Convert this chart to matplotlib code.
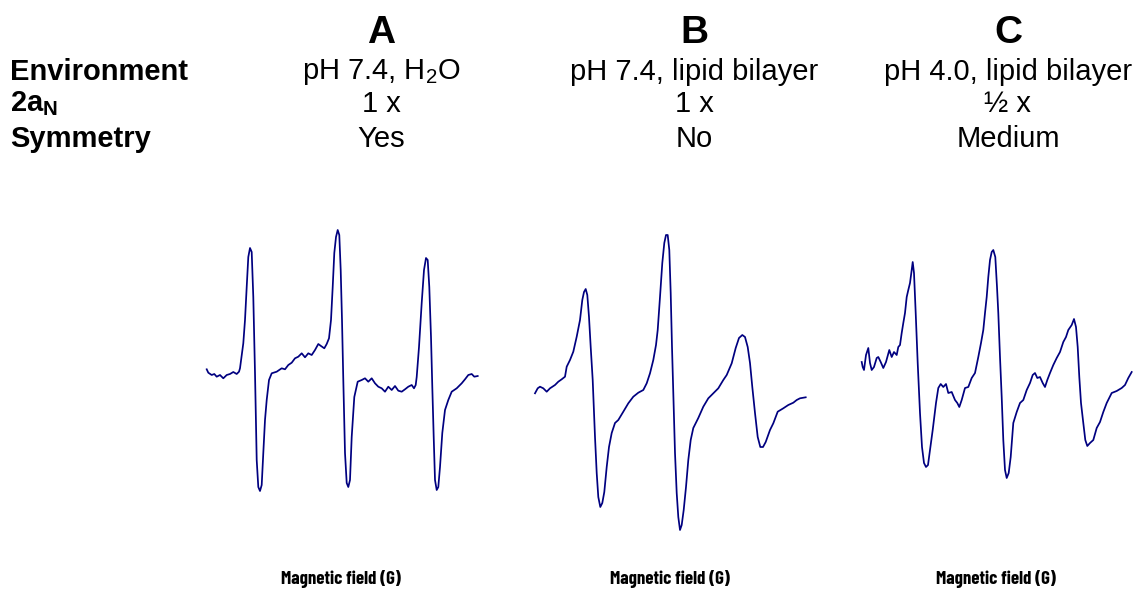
import matplotlib
matplotlib.use("Agg")
import matplotlib.pyplot as plt

plt.rcParams["font.family"] = ["Liberation Sans", "DejaVu Sans"]
plt.rcParams["mathtext.fontset"] = "custom"
plt.rcParams["mathtext.rm"] = "Liberation Sans"
plt.rcParams["mathtext.bf"] = "Liberation Sans:bold"

# ---- EPR spectra (field offset in G, first-derivative signal in a.u.) ----
field_a = [6.7, 8.3, 11.7, 14.3, 16.7, 20.0, 23.3, 26.7, 30.0, 33.3, 36.7, 39.0, 40.0,
           43.3, 45.0, 46.7, 48.3, 50.0, 51.7, 53.3, 55.0, 56.7, 58.3, 60.0, 61.7, 63.3,
           65.0, 66.7, 69.0, 71.7, 76.7, 81.7, 85.0, 88.3, 91.7, 95.0, 98.3, 101.7, 105.0,
           108.3, 111.7, 115.0, 118.3, 121.0, 124.3, 126.7, 129.0, 131.0, 132.7, 134.3,
           136.0, 137.7, 139.3, 140.7, 142.0, 143.3, 145.0, 146.7, 148.3, 150.0, 151.7,
           154.3, 157.7, 161.7, 165.0, 168.3, 171.7, 175.0, 178.3, 181.7, 185.0, 188.3,
           191.7, 195.0, 198.3, 201.7, 205.0, 208.3, 211.7, 214.0, 215.7, 216.7, 219.0,
           221.7, 224.0, 226.0, 227.7, 229.3, 231.0, 232.3, 233.7, 235.0, 236.7, 238.3,
           240.0, 242.3, 245.0, 248.3, 251.7, 256.7, 261.7, 265.0, 268.3, 271.7, 274.3,
           277.7]
signal_a = [5.7, 2.3, 0.0, 1.0, -1.7, 0.0, -3.3, 0.0, 1.0, 3.0, 1.0, 3.3, 6.7,
            31.7, 55.0, 88.0, 118.0, 127.0, 123.0, 78.0, 2.0, -85.0, -112.0, -116.0,
            -110.0, -78.0, -45.0, -25.0, -5.0, 1.7, 3.3, 6.7, 5.7, 10.0, 12.3, 16.7,
            18.3, 21.7, 17.7, 21.7, 20.0, 25.0, 31.0, 29.0, 26.7, 31.0, 36.7, 55.0, 88.0,
            122.0, 138.0, 145.0, 140.0, 105.0, 55.0, -5.0, -78.0, -108.0, -112.0, -105.0,
            -62.0, -22.0, -6.7, -5.0, -3.3, -6.7, -3.3, -8.3, -11.7, -13.3, -16.7, -11.7,
            -15.0, -11.0, -15.7, -16.7, -14.3, -11.7, -10.0, -13.3, -10.0, -2.0, 28.0,
            72.0, 105.0, 117.0, 115.0, 88.0, 38.0, -12.0, -62.0, -105.0, -115.0, -112.0,
            -92.0, -58.0, -35.0, -25.0, -16.7, -13.3, -8.3, -4.3, 0.0, 1.0, -1.7, -1.0]

field_b = [5.0, 7.7, 10.0, 13.3, 16.7, 20.0, 25.0, 28.3, 31.7, 35.0, 36.7, 40.0, 43.3,
           46.7, 50.0, 52.3, 54.0, 55.7, 57.3, 59.0, 60.7, 62.7, 65.0, 66.7, 68.3, 70.3,
           72.3, 74.3, 76.7, 79.0, 81.7, 85.0, 88.3, 93.3, 98.3, 103.3, 108.3, 113.3,
           116.7, 120.0, 123.3, 126.0, 127.7, 130.0, 132.3, 134.3, 136.0, 137.7, 139.3,
           140.7, 142.0, 143.3, 145.0, 146.7, 148.3, 150.0, 151.7, 153.7, 156.0, 158.3,
           160.7, 163.3, 168.3, 173.3, 178.3, 183.3, 188.3, 193.3, 196.7, 201.7, 205.7,
           209.0, 212.3, 215.0, 217.7, 220.0, 222.3, 225.0, 227.7, 230.3, 233.0, 235.7,
           240.0, 243.3, 247.7, 253.3, 258.3, 263.3, 266.7, 270.0, 275.7]
signal_b = [-3.3, 1.7, 3.3, 1.7, -1.7, 1.7, 5.0, 8.3, 10.7, 13.3, 23.3, 30.0, 38.3,
            53.3, 70.0, 90.0, 98.0, 101.0, 95.0, 73.0, 43.0, 10.0, -47.0, -83.0, -107.0,
            -117.0, -113.0, -102.0, -77.0, -57.0, -43.0, -33.0, -30.0, -21.7, -13.3, -6.7,
            -2.7, 0.0, 6.7, 16.7, 30.0, 45.0, 60.0, 93.0, 127.0, 147.0, 155.0, 155.0,
            140.0, 97.0, 43.0, -3.0, -63.0, -103.0, -127.0, -140.0, -135.0, -120.0, -97.0,
            -70.0, -50.0, -38.0, -28.0, -16.7, -8.3, -3.3, 1.7, 10.0, 15.0, 26.7, 42.0,
            52.0, 55.0, 53.0, 43.0, 27.0, 3.0, -23.0, -47.0, -57.0, -57.0, -52.0, -40.0,
            -33.3, -21.7, -18.3, -15.0, -12.7, -10.0, -8.3, -7.3]

field_c = [3.7, 4.7, 6.0, 8.0, 10.3, 12.0, 13.7, 16.0, 18.7, 20.3, 22.7, 25.3, 28.0,
           31.3, 33.7, 36.0, 38.7, 40.3, 42.0, 43.7, 45.3, 47.0, 48.7, 50.3, 52.0, 53.7,
           54.7, 56.0, 57.7, 59.7, 62.0, 64.0, 66.0, 68.0, 70.0, 72.0, 74.7, 78.0, 80.3,
           82.7, 85.3, 88.0, 90.3, 93.7, 97.0, 99.3, 101.3, 103.7, 107.0, 110.3, 113.7,
           117.0, 120.3, 123.0, 125.3, 127.0, 128.7, 130.3, 132.0, 133.7, 135.3, 137.3,
           139.0, 140.3, 142.0, 143.7, 145.3, 147.0, 148.7, 150.7, 152.7, 155.3, 158.7,
           162.0, 165.3, 168.7, 172.0, 174.7, 177.0, 179.3, 182.0, 184.7, 187.0, 189.3,
           192.0, 195.3, 198.7, 202.0, 205.3, 208.0, 210.3, 213.7, 216.0, 218.0, 219.7,
           221.3, 223.0, 225.3, 227.3, 229.3, 232.0, 235.3, 238.7, 242.0, 245.3, 248.7,
           253.7, 258.7, 263.7, 267.0, 270.3, 273.7]
signal_c = [28.0, 23.0, 20.0, 35.0, 42.0, 27.0, 20.0, 23.0, 32.0, 33.0, 28.0, 22.0, 28.0,
            40.0, 33.0, 38.0, 35.0, 43.0, 45.0, 57.0, 67.0, 77.0, 93.0, 100.0, 107.0, 120.0,
            128.0, 117.0, 77.0, 27.0, -23.0, -57.0, -73.0, -77.0, -75.0, -60.0, -40.0,
            -13.0, 2.0, 6.0, 3.0, 6.0, -3.0, -2.0, -10.0, -13.0, -17.0, -10.0, 2.0, 3.0,
            12.0, 17.0, 33.0, 47.0, 60.0, 77.0, 93.0, 113.0, 130.0, 138.0, 140.0, 133.0,
            103.0, 77.0, 33.0, -7.0, -50.0, -80.0, -88.0, -83.0, -67.0, -33.0, -22.0,
            -13.0, -10.0, 0.0, 7.0, 15.0, 17.0, 12.0, 13.0, 7.0, 3.0, 10.0, 17.0, 25.0,
            32.0, 38.0, 48.0, 53.0, 60.0, 65.0, 71.0, 63.0, 43.0, 13.0, -13.0, -33.0,
            -50.0, -56.0, -53.0, -50.0, -38.0, -32.0, -22.0, -13.0, -3.0, -1.0, 2.0, 5.0,
            12.0, 18.0]

panel_letters = ["A", "B", "C"]
environments = ["pH 7.4, H$_\\mathrm{2}$O", "pH 7.4, lipid bilayer", "pH 4.0, lipid bilayer"]
hyperfine = ["1 x", "1 x", "\u00bd x"]
symmetry = ["Yes", "No", "Medium"]
row_labels = ["Environment", "2a$_\\mathbf{N}$", "Symmetry"]
x_label = "Magnetic field (G)"

W, H = 1137, 591
fig = plt.figure(figsize=(W / 100, H / 100), dpi=100)

spectra = [(field_a, signal_a), (field_b, signal_b), (field_c, signal_c)]
panel_left = [200, 530, 858]
baseline = [375, 390, 390]
col_center = [381, 694, 1008]
label_center = [341, 670, 996]

top_px, bot_px, width_px = 215, 540, 285
for (fx, sy), left, base in zip(spectra, panel_left, baseline):
    ax = fig.add_axes([left / W, 1 - bot_px / H, width_px / W, (bot_px - top_px) / H])
    ax.plot(fx, sy, color="#000080", lw=1.25, solid_joinstyle="round")
    ax.set_xlim(0, width_px)
    ax.set_ylim(base - bot_px, base - top_px)
    ax.axis("off")


def fy(py):
    return 1 - py / H


for cx, letter, env, hf, sym in zip(col_center, panel_letters, environments, hyperfine, symmetry):
    fig.text(cx / W, fy(33), letter, ha="center", va="center", fontsize=28, fontweight="bold")
    fig.text(cx / W, fy(72), env, ha="center", va="center", fontsize=21)
    fig.text(cx / W, fy(104), hf, ha="center", va="center", fontsize=21)
    fig.text(cx / W, fy(139), sym, ha="center", va="center", fontsize=21)

for py, lab in zip([72, 104, 139], row_labels):
    fig.text(10 / W, fy(py), lab, ha="left", va="center", fontsize=21, fontweight="bold")

for cx in label_center:
    fig.text(cx / W, fy(579), x_label, ha="center", va="center", fontsize=13.5,
             fontweight="bold", family=["Barlow Condensed", "Liberation Sans"])

fig.savefig("out.png", dpi=100, facecolor="white")
